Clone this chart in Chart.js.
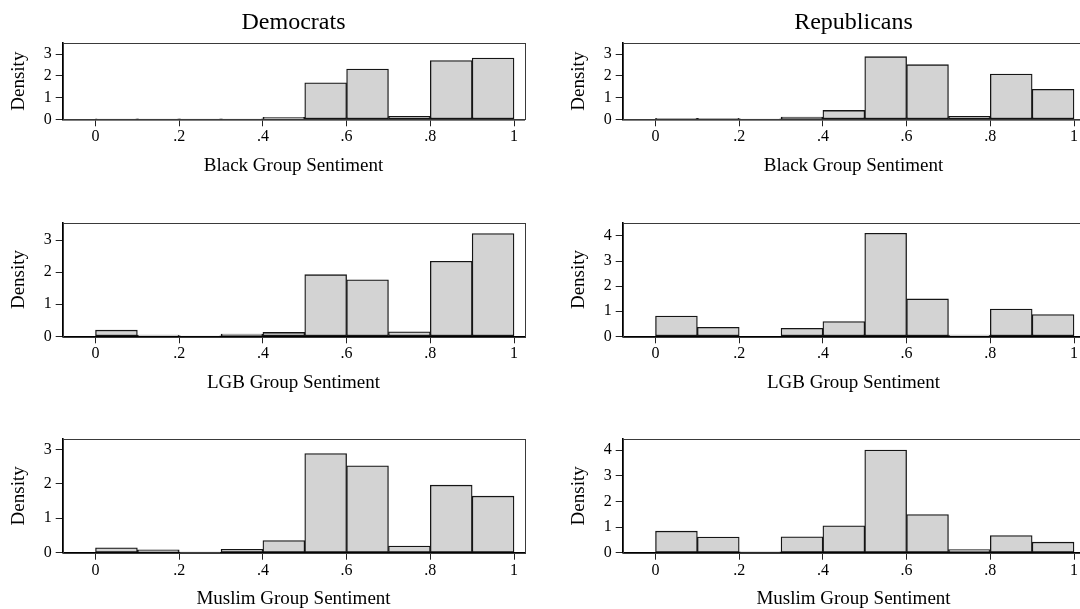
<!DOCTYPE html>
<html>
<head>
<meta charset="utf-8">
<script src="https://cdn.jsdelivr.net/npm/chart.js@4.4.1/dist/chart.umd.min.js"></script>
<style>
  html, body { margin: 0; padding: 0; background: #fff; overflow: hidden; width: 1080px; height: 609px; }
  .panel { position: absolute; }
</style>
</head>
<body>
<script>
// Histogram bins: ten bins of width 0.1 on [0, 1], given by their midpoints
const binMids = [0.05, 0.15, 0.25, 0.35, 0.45, 0.55, 0.65, 0.75, 0.85, 0.95];

// Axis ticks
const xTickValues = [0, 0.2, 0.4, 0.6, 0.8, 1];
const xTickLabels = ['0', '.2', '.4', '.6', '.8', '1'];
const yTicksTo3 = [0, 1, 2, 3];
const yTicksTo4 = [0, 1, 2, 3, 4];

// Density per bin
const demBlack  = [0.01, 0.02, 0.02, 0.01, 0.09, 1.68, 2.32, 0.14, 2.71, 2.83];
const repBlack  = [0.05, 0.05, 0.02, 0.10, 0.41, 2.89, 2.52, 0.14, 2.09, 1.38];
const demLGB    = [0.19, 0.04, 0.01, 0.07, 0.12, 1.92, 1.76, 0.14, 2.34, 3.20];
const repLGB    = [0.81, 0.36, 0.00, 0.32, 0.59, 4.11, 1.49, 0.05, 1.09, 0.87];
const demMuslim = [0.14, 0.08, 0.01, 0.10, 0.35, 2.88, 2.52, 0.19, 1.96, 1.64];
const repMuslim = [0.84, 0.61, 0.03, 0.62, 1.05, 4.01, 1.49, 0.12, 0.67, 0.41];

// Text
const columnTitles = ['Democrats', 'Republicans'];
const xAxisTitles = ['Black Group Sentiment', 'LGB Group Sentiment', 'Muslim Group Sentiment'];
const yAxisTitle = 'Density';

const SERIF = "'Liberation Serif', 'Times New Roman', serif";

// Row geometry (canvas-relative): canvas top, canvas height, plot top, x-axis line y, x-title centre
const rows = [
  { top: 0,   h: 200, plotTop: 43,   axisY: 119.3, titleY: 165.8 },
  { top: 200, h: 200, plotTop: 22.7, axisY: 136.3, titleY: 182.8 },
  { top: 400, h: 209, plotTop: 39,   axisY: 152.7, titleY: 198.8 }
];
const cols = [{ left: 0 }, { left: 560 }];
const CANVAS_W = 540;
const PLOT_LEFT = 62.7;
const PLOT_RIGHT = 524.3;

const panels = [
  { row: 0, col: 0, data: demBlack,  yMax: 3.52, yTicks: yTicksTo3 },
  { row: 0, col: 1, data: repBlack,  yMax: 3.52, yTicks: yTicksTo3 },
  { row: 1, col: 0, data: demLGB,    yMax: 3.54, yTicks: yTicksTo3 },
  { row: 1, col: 1, data: repLGB,    yMax: 4.53, yTicks: yTicksTo4 },
  { row: 2, col: 0, data: demMuslim, yMax: 3.30, yTicks: yTicksTo3 },
  { row: 2, col: 1, data: repMuslim, yMax: 4.44, yTicks: yTicksTo4 }
];

// Thin outline round the plot region
const framePlugin = {
  id: 'plotFrame',
  beforeDatasetsDraw(chart) {
    const a = chart.chartArea, c = chart.ctx;
    c.save();
    c.strokeStyle = '#3a3a3a';
    c.lineWidth = 1;
    c.strokeRect(Math.round(a.left) + 0.5, Math.round(a.top) + 0.5,
                 Math.round(a.right - a.left), Math.round(a.bottom - a.top));
    c.restore();
  }
};

panels.forEach(p => {
  const r = rows[p.row];
  const col = cols[p.col];
  const div = document.createElement('div');
  div.className = 'panel';
  div.style.left = col.left + 'px';
  div.style.top = r.top + 'px';
  div.style.width = CANVAS_W + 'px';
  div.style.height = r.h + 'px';
  const cv = document.createElement('canvas');
  cv.width = CANVAS_W;
  cv.height = r.h;
  cv.style.width = CANVAS_W + 'px';
  cv.style.height = r.h + 'px';
  div.appendChild(cv);
  document.body.appendChild(div);

  const xAxisHeight = r.h - r.axisY;
  const titleLine = 19;
  const withHeading = p.row === 0;

  new Chart(cv.getContext('2d'), {
    type: 'bar',
    data: {
      datasets: [{
        data: binMids.map((m, i) => ({ x: m, y: p.data[i] })),
        backgroundColor: '#d3d3d3',
        borderColor: '#151515',
        borderWidth: 1.3,
        borderSkipped: false,
        barPercentage: 1,
        categoryPercentage: 1
      }]
    },
    options: {
      responsive: false,
      animation: false,
      devicePixelRatio: 1,
      layout: {
        padding: { left: 0, right: CANVAS_W - PLOT_RIGHT, top: withHeading ? 0 : r.plotTop, bottom: 0 }
      },
      plugins: {
        legend: { display: false },
        tooltip: { enabled: false },
        title: {
          display: withHeading,
          text: withHeading ? columnTitles[p.col] : '',
          fullSize: false,
          color: '#000',
          font: { family: SERIF, size: 24, weight: 'normal', lineHeight: 1 },
          padding: { top: 10.8, bottom: 8.2 }
        }
      },
      scales: {
        x: {
          type: 'linear',
          min: -0.0784,
          max: 1.0246,
          offset: false,
          afterBuildTicks(scale) { scale.ticks = xTickValues.map(v => ({ value: v })); },
          afterFit(scale) { scale.height = xAxisHeight; },
          ticks: {
            autoSkip: false,
            maxRotation: 0,
            padding: 1,
            color: '#000',
            font: { family: SERIF, size: 16 },
            callback(value) {
              const k = xTickValues.findIndex(v => Math.abs(v - value) < 1e-9);
              return k >= 0 ? xTickLabels[k] : '';
            }
          },
          grid: { display: true, offset: false, drawOnChartArea: false, drawTicks: true, tickLength: 7, color: '#222', lineWidth: 1 },
          border: { display: true, color: '#000', width: 1.6 },
          title: {
            display: true,
            text: xAxisTitles[p.row],
            color: '#000',
            font: { family: SERIF, size: 19, lineHeight: 1 },
            padding: { top: 0, bottom: r.h - r.titleY - titleLine / 2 }
          }
        },
        y: {
          type: 'linear',
          min: 0,
          max: p.yMax,
          afterBuildTicks(scale) { scale.ticks = p.yTicks.map(v => ({ value: v })); },
          afterFit(scale) { scale.width = PLOT_LEFT; },
          ticks: {
            padding: 4,
            color: '#000',
            font: { family: SERIF, size: 16 },
            callback(value) { return String(value); }
          },
          grid: { display: true, offset: false, drawOnChartArea: false, drawTicks: true, tickLength: 7, color: '#222', lineWidth: 1 },
          border: { display: true, color: '#000', width: 1.6 },
          title: {
            display: true,
            text: yAxisTitle,
            color: '#000',
            font: { family: SERIF, size: 19, lineHeight: 1 },
            padding: { top: 19.5 - titleLine / 2, bottom: 0 }
          }
        }
      }
    },
    plugins: [framePlugin]
  });
});
</script>
</body>
</html>
